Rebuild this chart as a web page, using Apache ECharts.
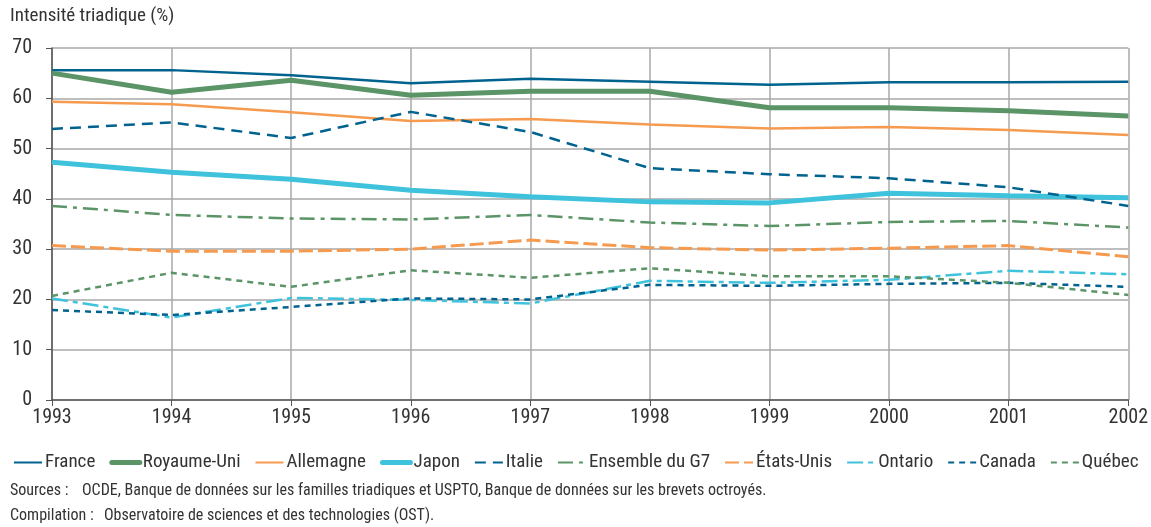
<!DOCTYPE html>
<html>
<head>
<meta charset="utf-8">
<script src="https://cdn.jsdelivr.net/npm/echarts@6/dist/echarts.min.js"></script>
<style>
  html, body { margin: 0; padding: 0; background: #fff; }
  #chart { width: 1151px; height: 527px; }
</style>
</head>
<body>
<div id="chart"></div>
<script>
const years = ['1993', '1994', '1995', '1996', '1997', '1998', '1999', '2000', '2001', '2002']

const france = [65.6, 65.6, 64.6, 63.0, 63.9, 63.3, 62.7, 63.2, 63.2, 63.3]
const royaumeUni = [65.0, 61.2, 63.6, 60.6, 61.4, 61.4, 58.1, 58.1, 57.5, 56.5]
const allemagne = [59.3, 58.8, 57.2, 55.5, 55.9, 54.8, 54.0, 54.3, 53.7, 52.7]
const japon = [47.3, 45.3, 43.9, 41.7, 40.4, 39.4, 39.2, 41.1, 40.6, 40.2]
const italie = [53.9, 55.2, 52.1, 57.3, 53.3, 46.1, 44.9, 44.1, 42.3, 38.6]
const g7 = [38.6, 36.8, 36.1, 35.9, 36.8, 35.3, 34.6, 35.4, 35.6, 34.3]
const etatsUnis = [30.7, 29.6, 29.6, 30.0, 31.8, 30.3, 29.8, 30.2, 30.7, 28.5]
const ontario = [20.2, 16.4, 20.3, 19.9, 19.2, 23.7, 23.3, 23.9, 25.7, 25.0]
const canada = [17.9, 16.9, 18.5, 20.2, 20.0, 22.9, 22.7, 23.1, 23.3, 22.5]
const quebec = [20.7, 25.3, 22.5, 25.8, 24.3, 26.2, 24.6, 24.6, 23.3, 20.9]

const yTicks = [0, 10, 20, 30, 40, 50, 60, 70]
const legendNames = ['France', 'Royaume-Uni', 'Allemagne', 'Japon', 'Italie', 'Ensemble du G7', 'États-Unis', 'Ontario', 'Canada', 'Québec']

const FONT = '"Roboto Condensed", "Liberation Sans Narrow", Roboto, sans-serif'
const DARK = '#00628f'
const GREEN = '#5b9467'
const ORANGE = '#f59a4e'
const LIGHT = '#3fc2dc'

const mkLine = (name, data, color, width, type) => ({
    name,
    type: 'line',
    data,
    symbol: 'none',
    smooth: false,
    lineStyle: { color, width, type },
    itemStyle: { color }
})

// thick series also get a thick legend line
const thick = ['Royaume-Uni', 'Japon']

const chart = echarts.init(document.getElementById('chart'))

chart.setOption({
    animation: false,
    textStyle: { fontFamily: FONT },
    grid: { left: 52, right: 18, top: 48, bottom: 127, containLabel: false },
    graphic: [
        { type: 'text', left: 10, top: 7, style: { text: 'Intensité triadique (%)', font: '19px ' + FONT, fill: '#333' } },
        { type: 'text', left: 10, top: 483, style: { text: 'Sources :', font: '16px ' + FONT, fill: '#333' } },
        { type: 'text', left: 82, top: 483, style: { text: 'OCDE, Banque de données sur les familles triadiques et USPTO, Banque de données sur les brevets octroyés.', font: '16px ' + FONT, fill: '#333' } },
        { type: 'text', left: 10, top: 508, style: { text: 'Compilation :', font: '16px ' + FONT, fill: '#333' } },
        { type: 'text', left: 104, top: 508, style: { text: 'Observatoire de sciences et des technologies (OST).', font: '16px ' + FONT, fill: '#333' } }
    ],
    legend: {
        left: 8,
        top: 448,
        itemWidth: 28,
        itemHeight: 12,
        itemGap: 14,
        itemStyle: { opacity: 0 },
        textStyle: { fontFamily: FONT, fontSize: 19, color: '#333', padding: [0, 0, 0, -2] },
        data: legendNames.map(n => thick.includes(n) ? { name: n, lineStyle: { width: 5, cap: 'round' } } : n)
    },
    xAxis: {
        type: 'category',
        data: years,
        boundaryGap: false,
        axisLine: { lineStyle: { color: '#555', width: 1.5 } },
        axisTick: { show: true, alignWithLabel: true, length: 6, lineStyle: { color: '#555' } },
        axisLabel: { color: '#333', fontSize: 20, fontFamily: FONT, margin: 8, showMaxLabel: true },
        splitLine: { show: true, lineStyle: { color: '#a8a8a8', width: 1.5 } }
    },
    yAxis: {
        type: 'value',
        min: yTicks[0],
        max: yTicks[yTicks.length - 1],
        interval: 10,
        axisLine: { show: true, lineStyle: { color: '#555', width: 1.5 } },
        axisTick: { show: true, length: 6, lineStyle: { color: '#555' } },
        axisLabel: { color: '#333', fontSize: 20, fontFamily: FONT, margin: 20 },
        splitLine: { show: true, lineStyle: { color: '#a8a8a8', width: 1.5 } }
    },
    series: [
        mkLine('France', france, DARK, 2.5, 'solid'),
        mkLine('Royaume-Uni', royaumeUni, GREEN, 5, 'solid'),
        mkLine('Allemagne', allemagne, ORANGE, 2.5, 'solid'),
        mkLine('Japon', japon, LIGHT, 5, 'solid'),
        mkLine('Italie', italie, DARK, 2.5, [11, 7]),
        mkLine('Ensemble du G7', g7, GREEN, 2.5, [15, 6, 4, 6]),
        mkLine('États-Unis', etatsUnis, ORANGE, 3, [14, 5]),
        mkLine('Ontario', ontario, LIGHT, 2.5, [16, 5, 5, 5]),
        mkLine('Canada', canada, DARK, 2.5, [6, 5]),
        mkLine('Québec', quebec, GREEN, 2.5, [6, 5])
    ]
})
</script>
</body>
</html>
